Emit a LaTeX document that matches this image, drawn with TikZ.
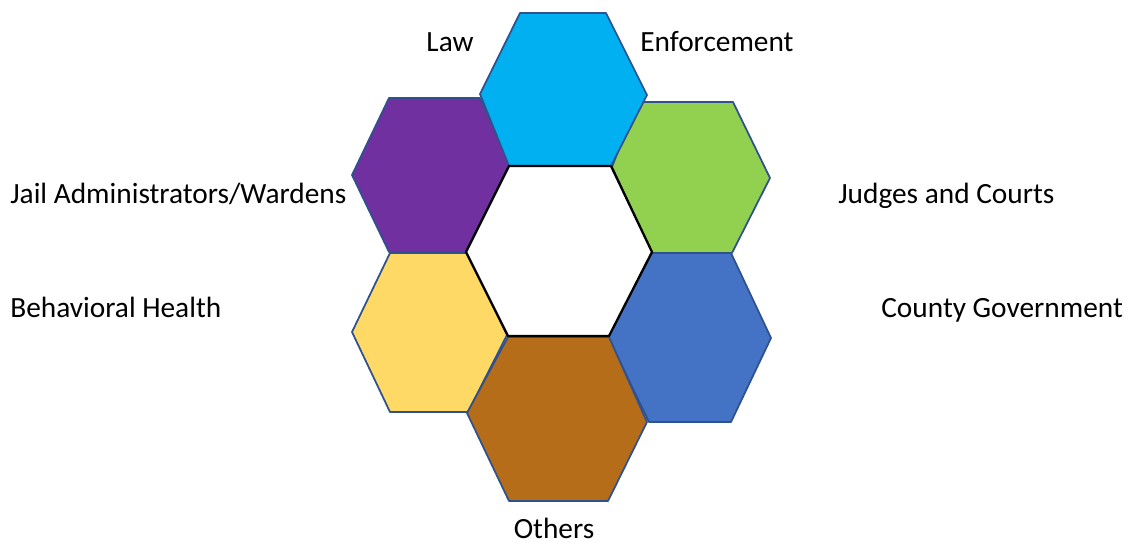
\documentclass[tikz,border=0pt]{standalone}
\usepackage{fontspec}
\setmainfont{Carlito}
\usepackage{tikz}

\definecolor{cellline}{HTML}{2F528F}
\definecolor{lawcyan}{HTML}{00B0F0}
\definecolor{judgegreen}{HTML}{92D050}
\definecolor{countyblue}{HTML}{4472C4}
\definecolor{otherbrown}{HTML}{B56D1A}
\definecolor{healthyellow}{HTML}{FFD966}
\definecolor{jailpurple}{HTML}{7030A0}

\tikzset{
    cell/.style={draw=cellline, line width=1pt, line join=round},
    hub/.style={draw=black, line width=1.3pt, line join=round, fill=white},
    lbl/.style={inner sep=0pt, font=\fontsize{16.7}{20}\selectfont}
}

\begin{document}
\begin{tikzpicture}[x=0.02cm, y=-0.02cm]
    \useasboundingbox (0,0) rectangle (1130,544);

    % Ring of cells, back to front
    \draw [cell, fill=jailpurple] (389,98) -- (480,98) -- (512,168) -- (466,252) -- (389,252) -- (352,175) -- cycle;
    \draw [cell, fill=judgegreen] (637,102) -- (733,102) -- (770,178) -- (732,253) -- (652,253) -- (612,167) -- cycle;
    \draw [cell, fill=healthyellow] (390,253) -- (468,253) -- (507,335) -- (468,412) -- (390,412) -- (352,332) -- cycle;
    \draw [cell, fill=countyblue] (652,253) -- (731,253) -- (771,338) -- (731,422) -- (649,422) -- (608,337) -- cycle;
    \draw [cell, fill=otherbrown] (508,337) -- (609,337) -- (647,422) -- (608,501) -- (509,501) -- (467,413) -- cycle;
    \draw [cell, fill=lawcyan] (520,13) -- (606,13) -- (647,95) -- (611,166) -- (509,166) -- (480,94) -- cycle;

    % Centre cell
    \draw [hub] (509,166) -- (611,166) -- (652,252) -- (609,336) -- (508,336) -- (466,252) -- cycle;

    % Labels
    \node [lbl, anchor=base east] (law) at (474,52) {Law};
    \node [lbl, anchor=base west] (enf) at (640,52) {Enforcement};
    \node [lbl, anchor=base west] (jail) at (10,203) {Jail Administrators/Wardens};
    \node [lbl, anchor=base west] (judges) at (838,203) {Judges and Courts};
    \node [lbl, anchor=base west] (health) at (10,317) {Behavioral Health};
    \node [lbl, anchor=base west] (county) at (881,317) {County Government};
    \node [lbl, anchor=base] (others) at (554,538) {Others};
\end{tikzpicture}
\end{document}
